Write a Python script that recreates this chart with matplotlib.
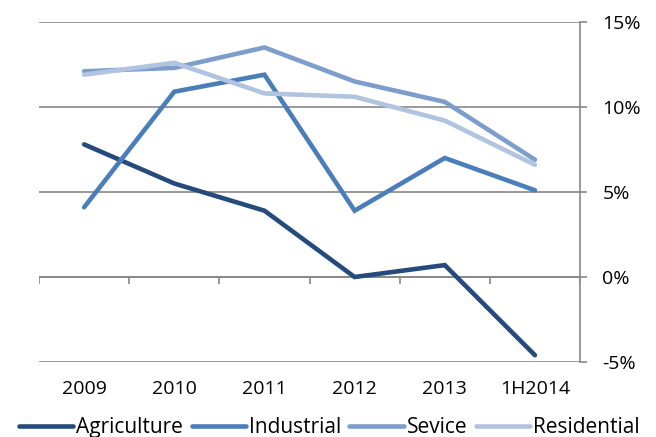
import matplotlib.pyplot as plt
import numpy as np

# Jahre / Kategorien
jahre = ["2009", "2010", "2011", "2012", "2013", "1H2014"]

# Wachstumsraten in %
agriculture = [7.8, 5.5, 3.9, 0.0, 0.7, -4.6]
industrial = [4.1, 10.9, 11.9, 3.9, 7.0, 5.1]
service = [12.1, 12.3, 13.5, 11.5, 10.3, 6.9]
residential = [11.9, 12.6, 10.8, 10.6, 9.2, 6.6]

y_ticks = [-5, 0, 5, 10, 15]

farben = {
    "Agriculture": "#254b7d",
    "Industrial": "#4a7ebb",
    "Sevice": "#7d9dcc",
    "Residential": "#b0c3df",
}
grau = "#878787"

plt.rcParams['font.family'] = ['Open Sans', 'DejaVu Sans']

fig = plt.figure(figsize=(6.56, 4.37), dpi=100)
ax = fig.add_axes([0.0595, 0.1716, 0.8247, 0.7781])

x = np.arange(len(jahre))
serien = [("Agriculture", agriculture), ("Industrial", industrial),
          ("Sevice", service), ("Residential", residential)]
for name, werte in serien:
    ax.plot(x, werte, color=farben[name], linewidth=3.3, label=name,
            solid_capstyle='round', solid_joinstyle='miter', zorder=3)

ax.set_xlim(-0.5, len(jahre) - 0.5)
ax.set_ylim(-5, 15)

# Rechte Achse mit Prozentwerten
ax.yaxis.tick_right()
ax.set_yticks(y_ticks)
ax.set_yticklabels([f"{v}%" for v in y_ticks], fontsize=14)
ax.tick_params(axis='y', length=5, width=1.2, color=grau, pad=11)
ax.grid(axis='y', color=grau, linewidth=1.2, zorder=1)

# Kategorieachse bei 0 mit Teilstrichen nach unten
ax.axhline(0, color=grau, linewidth=1.2, zorder=2)
ax.vlines(np.arange(len(jahre) + 1) - 0.5, -0.42, 0, color=grau, linewidth=1.2, zorder=2)

ax.set_xticks(x)
ax.set_xticklabels(jahre, fontsize=14)
ax.tick_params(axis='x', length=0, pad=13)

for s in ['left', 'top', 'bottom']:
    ax.spines[s].set_visible(False)
ax.spines['right'].set_color(grau)
ax.spines['right'].set_linewidth(1.2)

fig.legend(loc='center', bbox_to_anchor=(0.502, 0.022), ncol=4, frameon=False,
           fontsize=15, handlelength=2.6, handletextpad=0.15, columnspacing=0.4,
           borderpad=0, borderaxespad=0)

fig.savefig("out.png", dpi=100)
